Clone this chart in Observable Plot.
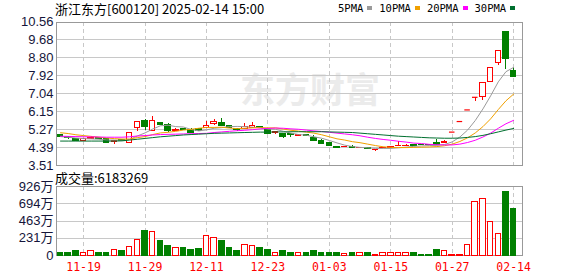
<!DOCTYPE html>
<html>
<head>
<meta charset="utf-8">
<script src="https://cdn.jsdelivr.net/npm/d3@7"></script>
<script src="https://cdn.jsdelivr.net/npm/@observablehq/plot@0.6"></script>
<style>
  html, body { margin: 0; padding: 0; background: #fff; }
  #wrap { position: relative; width: 578px; height: 276px; overflow: hidden; background: #fff; }
  #wrap > * { position: absolute; }
  .t { font-family: "Noto Sans CJK SC", sans-serif; font-size: 13px; color: #000; white-space: nowrap; line-height: 1; }
  #legend { font-family: "DejaVu Sans Mono", monospace; font-size: 10.5px; color: #000; white-space: nowrap; line-height: 1; display: flex; align-items: center; }
  #legend .sw { display: inline-block; width: 5px; height: 4px; margin: 0 7px 0 4px; }
  #wm { font-family: "Noto Sans CJK SC", sans-serif; font-weight: 700; font-size: 35px; color: #ebebeb; line-height: 1; white-space: nowrap; }
</style>
</head>
<body>
<div id="wrap"></div>
<script>
// ---- data ----
const stockTitle = "浙江东方[600120] 2025-02-14 15:00";
const volumeTitle = "成交量";
const latestVolume = 6183269;

const dates = ["11-14","11-15","11-18","11-19","11-20","11-21","11-22","11-25","11-26","11-27",
  "11-28","11-29","12-02","12-03","12-04","12-05","12-06","12-09","12-10","12-11",
  "12-12","12-13","12-16","12-17","12-18","12-19","12-20","12-23","12-24","12-25",
  "12-26","12-27","12-30","12-31","01-02","01-03","01-06","01-07","01-08","01-09",
  "01-10","01-13","01-14","01-15","01-16","01-17","01-20","01-21","01-22","01-23",
  "01-24","01-27","02-05","02-06","02-07","02-10","02-11","02-12","02-13","02-14"];

const openP  = [5.01,4.90,4.81,4.73,4.80,4.85,4.80,4.65,4.74,4.62,
  5.35,5.68,5.22,5.58,5.48,5.19,5.29,5.27,5.32,5.35,
  5.53,5.60,5.43,5.30,5.32,5.35,5.40,5.25,5.09,5.07,
  5.05,4.96,5.00,4.88,4.73,4.60,4.43,4.40,4.41,4.36,
  4.36,4.26,4.37,4.38,4.45,4.47,4.52,4.52,4.52,4.60,
  4.60,5.15,5.67,6.24,6.86,6.88,7.61,8.57,10.05,8.15];
const highP  = [5.03,4.95,4.83,4.82,4.93,4.87,4.81,4.75,4.78,5.10,
  5.64,5.79,5.92,5.64,5.55,5.35,5.32,5.35,5.34,5.68,
  5.76,5.82,5.48,5.33,5.55,5.60,5.45,5.27,5.16,5.08,
  5.07,5.04,5.03,4.98,4.80,4.61,4.45,4.43,4.48,4.40,
  4.37,4.31,4.40,4.44,4.68,4.52,4.54,4.53,4.54,4.81,
  4.73,5.15,5.67,6.24,6.86,7.55,8.31,9.14,10.05,8.31];
const lowP   = [4.89,4.80,4.68,4.70,4.78,4.78,4.60,4.52,4.67,4.60,
  5.20,5.22,5.20,5.48,5.14,5.16,5.24,5.10,5.17,5.33,
  5.48,5.42,5.33,5.20,5.30,5.33,5.33,5.04,5.01,4.83,
  4.90,4.94,4.92,4.72,4.52,4.45,4.38,4.37,4.33,4.33,
  4.30,4.20,4.35,4.37,4.43,4.45,4.46,4.48,4.48,4.51,
  4.58,5.15,5.67,6.24,6.67,6.72,7.57,8.44,8.23,7.88];
const closeP = [4.91,4.84,4.70,4.79,4.88,4.80,4.62,4.73,4.71,5.09,
  5.63,5.38,5.71,5.51,5.22,5.27,5.27,5.12,5.19,5.47,
  5.64,5.45,5.37,5.24,5.41,5.46,5.35,5.06,5.15,4.91,
  5.01,5.01,4.94,4.73,4.57,4.46,4.39,4.41,4.39,4.37,
  4.32,4.28,4.39,4.40,4.49,4.49,4.49,4.50,4.50,4.53,
  4.68,5.15,5.67,6.24,6.86,7.55,8.31,9.14,8.75,7.88];
// volume in 万 (10,000 shares)
const volumeWan = [40,40,54,27,63,40,40,76,54,116,
  210,335,317,201,134,103,94,80,89,268,
  237,188,107,67,143,130,94,80,36,54,
  40,36,40,54,40,40,27,22,40,27,
  27,13,36,27,40,27,27,13,13,76,
  63,13,13,143,720,760,452,295,858,618];

const ma5  = [4.93,4.90,4.86,4.83,4.82,4.80,4.76,4.76,4.75,4.79,
  4.96,5.11,5.30,5.46,5.49,5.42,5.40,5.28,5.21,5.26,
  5.34,5.37,5.42,5.43,5.42,5.39,5.37,5.30,5.29,5.19,
  5.10,5.03,5.00,4.92,4.85,4.74,4.62,4.51,4.44,4.40,
  4.38,4.35,4.35,4.35,4.38,4.41,4.45,4.47,4.49,4.50,
  4.54,4.67,4.91,5.25,5.72,6.29,6.93,7.62,8.12,8.33];
const ma10 = [5.12,5.08,5.02,4.98,4.94,4.90,4.86,4.83,4.81,4.81,
  4.88,4.93,5.03,5.11,5.14,5.19,5.25,5.29,5.34,5.38,
  5.38,5.39,5.35,5.32,5.34,5.36,5.37,5.36,5.36,5.30,
  5.24,5.20,5.15,5.10,5.02,4.92,4.82,4.76,4.68,4.63,
  4.56,4.49,4.43,4.40,4.39,4.39,4.40,4.41,4.42,4.44,
  4.48,4.56,4.69,4.87,5.11,5.42,5.80,6.26,6.69,7.02];
const ma20 = [4.95,4.94,4.93,4.92,4.92,4.91,4.90,4.90,4.90,4.92,
  4.96,4.98,5.01,5.03,5.04,5.05,5.06,5.07,5.08,5.09,
  5.13,5.16,5.19,5.22,5.24,5.27,5.31,5.33,5.35,5.34,
  5.31,5.29,5.25,5.21,5.18,5.14,5.10,5.06,5.02,4.97,
  4.90,4.84,4.79,4.75,4.70,4.66,4.61,4.59,4.55,4.53,
  4.52,4.52,4.56,4.64,4.75,4.91,5.10,5.34,5.56,5.73];
const ma30 = [4.71,4.71,4.71,4.71,4.71,4.71,4.71,4.71,4.72,4.76,
  4.80,4.84,4.88,4.92,4.95,4.98,5.01,5.03,5.05,5.07,
  5.09,5.10,5.11,5.12,5.13,5.14,5.15,5.15,5.16,5.16,
  5.17,5.17,5.17,5.17,5.17,5.16,5.15,5.14,5.13,5.10,
  5.07,5.04,5.01,4.98,4.95,4.93,4.91,4.89,4.87,4.86,
  4.85,4.85,4.86,4.89,4.93,4.99,5.07,5.16,5.25,5.33];

const priceTicks = [3.51,4.39,5.27,6.15,7.04,7.92,8.80,9.68,10.56];
const priceTickLabels = ["3.51","4.39","5.27","6.15","7.04","7.92","8.80","9.68","10.56"];
const volTicks = [0,231.5,463,694.5,926];
const volTickLabels = ["0","231万","463万","694万","926万"];
const dateTicks = ["11-19","11-29","12-11","12-23","01-03","01-15","01-27","02-14"];

const maNames  = ["5PMA","10PMA","20PMA","30PMA"];
const maColors = ["#9a9a9a","#f0a000","#ff00ff","#006f2f"];

// ---- styles ----
const RED = "#ff0000", GREEN = "#008000", GRID = "#c8c8c8", FRAME = "#999999", AXISTXT = "#15153a";

const rows = dates.map((d, i) => ({
  date: d, open: openP[i], high: highP[i], low: lowP[i], close: closeP[i], vol: volumeWan[i],
  up: closeP[i] >= openP[i]
}));
const maSeries = [ma5, ma10, ma20, ma30];

const xScale = {type: "band", domain: dates, range: [56.2, 517], paddingInner: 0.28, paddingOuter: 0.14, axis: null};

const wrap = document.getElementById("wrap");

// watermark (behind)
const wm = document.createElement("div");
wm.id = "wm"; wm.textContent = "东方财富";
wm.style.left = "240px"; wm.style.top = "70px";
wrap.appendChild(wm);

const main = Plot.plot({
  width: 578, height: 174,
  marginTop: 21.5, marginBottom: 9, marginLeft: 56, marginRight: 56,
  style: {background: "transparent", fontFamily: "Liberation Sans, sans-serif", fontSize: "13px"},
  x: xScale,
  y: {domain: [3.51, 10.56], axis: null},
  color: {type: "identity"},
  marks: [
    Plot.ruleY(priceTicks, {stroke: GRID, shapeRendering: "crispEdges"}),
    Plot.ruleX(dateTicks, {stroke: GRID, strokeDasharray: "4,3", shapeRendering: "crispEdges"}),
    Plot.frame({stroke: FRAME, shapeRendering: "crispEdges"}),
    Plot.axisY({ticks: priceTicks, tickFormat: (d, i) => priceTickLabels[i], tickSize: 0, tickPadding: 3,
      fill: AXISTXT, fontSize: 13, label: null}),
    Plot.ruleX(rows, {x: "date", y1: "low", y2: "high", stroke: d => d.up ? RED : GREEN, shapeRendering: "crispEdges"}),
    Plot.barY(rows, {x: "date", y1: "open", y2: "close", fill: d => d.up ? "#ffffff" : GREEN,
      stroke: d => d.up ? RED : GREEN, strokeWidth: 1, shapeRendering: "crispEdges"}),
    Plot.tickY(rows.filter(d => d.open === d.close), {x: "date", y: "close", stroke: RED, strokeWidth: 1.2}),
    ...maSeries.map((s, k) => Plot.line(rows, {x: "date", y: (d, i) => s[i], stroke: maColors[k], strokeWidth: 1}))
  ]
});
main.style.left = "0px"; main.style.top = "0px";
wrap.appendChild(main);

const vol = Plot.plot({
  width: 578, height: 108,
  marginTop: 18, marginBottom: 21, marginLeft: 56, marginRight: 56,
  style: {background: "transparent", fontFamily: "Liberation Sans, 'Noto Sans CJK SC', sans-serif", fontSize: "13px"},
  x: xScale,
  y: {domain: [0, 926], axis: null},
  color: {type: "identity"},
  marks: [
    Plot.ruleY(volTicks, {stroke: GRID, shapeRendering: "crispEdges"}),
    Plot.ruleX(dateTicks, {stroke: GRID, strokeDasharray: "4,3", shapeRendering: "crispEdges"}),
    Plot.frame({stroke: FRAME, shapeRendering: "crispEdges"}),
    Plot.axisY({ticks: volTicks, tickFormat: (d, i) => volTickLabels[i], tickSize: 0, tickPadding: 3,
      fill: AXISTXT, fontSize: 13, label: null}),
    Plot.axisX({ticks: dateTicks, tickSize: 0, tickPadding: 7, fill: RED, fontSize: 11.5,
      fontFamily: "DejaVu Sans Mono, monospace", label: null}),
    Plot.barY(rows, {x: "date", y: "vol", fill: d => d.up ? "#ffffff" : GREEN,
      stroke: d => d.up ? RED : GREEN, strokeWidth: 1, shapeRendering: "crispEdges"})
  ]
});
vol.style.left = "0px"; vol.style.top = "168px";
wrap.appendChild(vol);

// title
const title = document.createElement("div");
title.className = "t"; title.textContent = stockTitle;
title.style.left = "55px"; title.style.top = "2px";
wrap.appendChild(title);

// volume caption
const vt = document.createElement("div");
vt.className = "t"; vt.textContent = volumeTitle + ":" + latestVolume;
vt.style.left = "55px"; vt.style.top = "171px";
wrap.appendChild(vt);

// legend
const lg = document.createElement("div");
lg.id = "legend"; lg.style.left = "338px"; lg.style.top = "3px";
maNames.forEach((n, k) => {
  const s = document.createElement("span"); s.textContent = n; lg.appendChild(s);
  const sw = document.createElement("span"); sw.className = "sw"; sw.style.background = maColors[k]; lg.appendChild(sw);
});
wrap.appendChild(lg);
</script>
</body>
</html>
